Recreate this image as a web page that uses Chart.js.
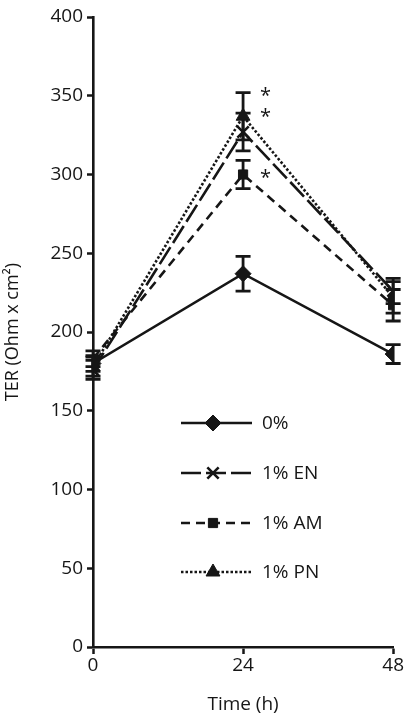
<!DOCTYPE html>
<html><head><meta charset="utf-8">
<script src="https://cdn.jsdelivr.net/npm/chart.js@4/dist/chart.umd.min.js"></script>
<style>html,body{margin:0;padding:0;background:#fff}#wrap{width:404px;height:716px;position:relative}</style>
</head><body><div id="wrap"><canvas id="c" width="404" height="716"></canvas></div>
<script>
// ---- data ----
const times = [0, 24, 48];
const seriesNames = ["0%", "1% EN", "1% AM", "1% PN"];
const ctrlMean = [180, 237, 186];
const ctrlErr  = [5, 11, 6];
const enMean   = [176, 327, 226];
const enErr    = [6, 12, 8];
const amMean   = [183, 300, 217];
const amErr    = [5, 9, 10];
const pnMean   = [178, 337, 222];
const pnErr    = [6, 15, 10];
const xTickValues = [0, 24, 48];
const yTickValues = [0, 50, 100, 150, 200, 250, 300, 350, 400];
const significantAt24 = ["1% PN", "1% EN", "1% AM"];

const INK = '#161616';
const FONT = '"Open Sans", "Noto Sans", sans-serif';

const means = [ctrlMean, enMean, amMean, pnMean];
const errs = [ctrlErr, enErr, amErr, pnErr];
const styles = [
  {pointStyle: 'rectRot', radius: 8, dash: []},
  {pointStyle: 'crossRot', radius: 8, dash: [20, 5]},
  {pointStyle: 'rect', radius: 6.5, dash: [9, 6]},
  {pointStyle: 'triangle', radius: 8, dash: [2.5, 2]}
];

const datasets = seriesNames.map((name, i) => ({
  label: name,
  data: times.map((t, j) => ({x: t, y: means[i][j], err: errs[i][j]})),
  borderColor: INK,
  backgroundColor: INK,
  borderWidth: 2.6,
  borderDash: styles[i].dash,
  pointStyle: styles[i].pointStyle,
  pointRadius: styles[i].radius,
  pointHoverRadius: styles[i].radius,
  pointBorderWidth: styles[i].pointStyle === 'crossRot' ? 2.6 : 1,
  pointBackgroundColor: INK,
  pointBorderColor: INK,
  tension: 0,
  fill: false
}));

const errorBars = {
  id: 'errorBars',
  beforeDatasetsDraw(chart) {
    const {ctx, scales: {x, y}} = chart;
    ctx.save();
    ctx.strokeStyle = INK;
    ctx.lineWidth = 2.8;
    ctx.setLineDash([]);
    chart.data.datasets.forEach(ds => {
      ds.data.forEach(p => {
        const px = x.getPixelForValue(p.x);
        const top = y.getPixelForValue(p.y + p.err);
        const bot = y.getPixelForValue(p.y - p.err);
        const cap = 7.5;
        ctx.beginPath();
        ctx.moveTo(px, top); ctx.lineTo(px, bot);
        ctx.moveTo(px - cap, top); ctx.lineTo(px + cap, top);
        ctx.moveTo(px - cap, bot); ctx.lineTo(px + cap, bot);
        ctx.stroke();
      });
    });
    ctx.restore();
  }
};

const stars = {
  id: 'stars',
  afterDatasetsDraw(chart) {
    const {ctx, scales: {x, y}} = chart;
    ctx.save();
    ctx.fillStyle = INK;
    ctx.font = '20px ' + FONT;
    ctx.textAlign = 'left';
    ctx.textBaseline = 'middle';
    chart.data.datasets.forEach(ds => {
      if (!significantAt24.includes(ds.label)) return;
      const p = ds.data.find(d => d.x === 24);
      const px = x.getPixelForValue(p.x) + 17;
      const py = y.getPixelForValue(ds.label === '1% AM' ? p.y : p.y + p.err) + 4;
      ctx.fillText('*', px, py);
    });
    ctx.restore();
  }
};

const insideLegend = {
  id: 'insideLegend',
  afterDraw(chart) {
    const {ctx, chartArea} = chart;
    const x0 = chartArea.left + 88, x1 = x0 + 71, xm = x0 + 32;
    const rowY = [406, 456, 506, 555].map(v => chartArea.top + v);
    ctx.save();
    chart.data.datasets.forEach((ds, i) => {
      const yy = rowY[i];
      ctx.strokeStyle = INK;
      ctx.lineWidth = 2.6;
      ctx.setLineDash(ds.borderDash);
      ctx.beginPath(); ctx.moveTo(x0, yy); ctx.lineTo(x1, yy); ctx.stroke();
      ctx.setLineDash([]);
      ctx.fillStyle = INK;
      ctx.lineWidth = ds.pointBorderWidth;
      Chart.helpers.drawPoint(ctx, {pointStyle: ds.pointStyle, radius: ds.pointRadius, rotation: 0, borderWidth: ds.pointBorderWidth}, xm, yy);
      ctx.fillStyle = INK;
      ctx.font = '19px ' + FONT;
      ctx.textAlign = 'left';
      ctx.textBaseline = 'middle';
      ctx.fillText(ds.label, x1 + 10, yy + 1);
    });
    ctx.restore();
  }
};

new Chart(document.getElementById('c'), {
  type: 'line',
  data: {datasets},
  plugins: [errorBars, stars, insideLegend],
  options: {
    responsive: false,
    animation: false,
    events: [],
    layout: {padding: {top: 17, right: 10, left: 0, bottom: 0}},
    plugins: {legend: {display: false}, tooltip: {enabled: false}},
    scales: {
      x: {
        type: 'linear', min: 0, max: 48,
        afterBuildTicks: s => { s.ticks = xTickValues.map(v => ({value: v})); },
        afterFit: s => { s.height = 69; },
        grid: {drawOnChartArea: false, drawTicks: true, tickLength: 7, tickWidth: 2.5, tickColor: INK},
        border: {display: true, color: INK, width: 2.6},
        ticks: {color: INK, font: {family: FONT, size: 19}, padding: 0, maxRotation: 0},
        title: {display: true, text: 'Time (h)', color: INK, font: {family: FONT, size: 19}, padding: {top: 4, bottom: 0}}
      },
      y: {
        type: 'linear', min: 0, max: 400,
        afterBuildTicks: s => { s.ticks = yTickValues.map(v => ({value: v})); },
        afterFit: s => { s.width = 93; },
        grid: {drawOnChartArea: false, drawTicks: true, tickLength: 6, tickWidth: 2.5, tickColor: INK},
        border: {display: true, color: INK, width: 2.6},
        ticks: {color: INK, font: {family: FONT, size: 19}, padding: 4},
        title: {display: true, text: 'TER (Ohm x cm²)', color: INK, font: {family: FONT, size: 18}, padding: {top: 2, bottom: 0}}
      }
    }
  }
});
</script></body></html>
